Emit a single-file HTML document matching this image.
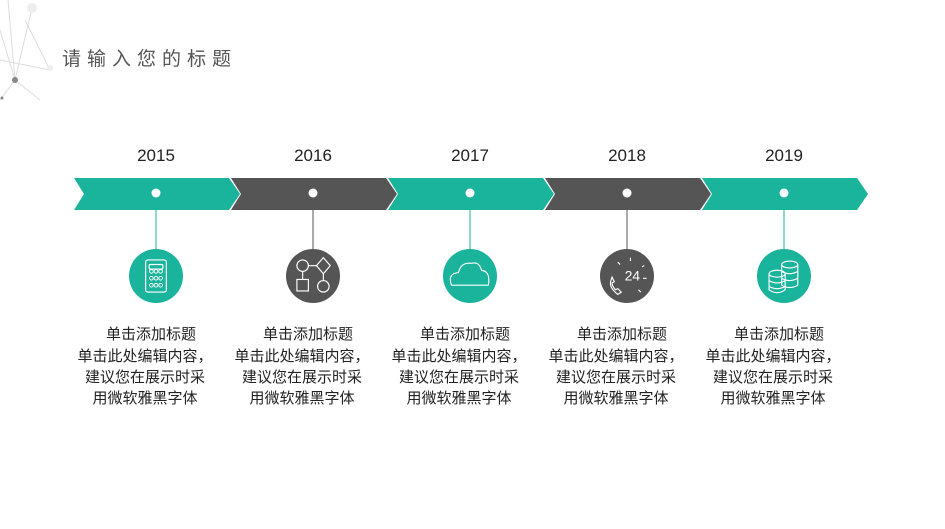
<!DOCTYPE html>
<html><head><meta charset="utf-8"><style>
body{margin:0;width:945px;height:529px;background:#fff;overflow:hidden;position:relative;font-family:"Liberation Sans","Noto Sans CJK SC",sans-serif}
.t{position:absolute;left:62px;top:44px;font-size:19px;letter-spacing:6px;color:#555}
.y{position:absolute;top:146px;width:120px;text-align:center;font-size:17px;color:#222}
.d{position:absolute;top:324px;width:160px;text-align:center;font-size:15px;line-height:21px;color:#222;white-space:nowrap}
.d b{font-weight:normal;display:block;margin-bottom:1px;padding-left:12px}
</style></head><body>
<svg width="945" height="529" style="position:absolute;left:0;top:0">
<g stroke="#ddd" stroke-width="1" fill="none">
<line x1="0" y1="30" x2="15" y2="80"/><line x1="15" y1="80" x2="0" y2="100"/><line x1="8" y1="0" x2="15" y2="80"/><line x1="32" y1="8" x2="15" y2="80"/><line x1="15" y1="80" x2="40" y2="100"/><line x1="0" y1="60" x2="50" y2="70"/><line x1="25" y1="20" x2="50" y2="70"/>
</g>
<circle cx="15" cy="80" r="3" fill="#888"/><circle cx="32" cy="8" r="5" fill="#eee"/><circle cx="2" cy="98" r="1.5" fill="#888"/><circle cx="50" cy="68" r="3" fill="#eee"/>
<g id="g"></g>
</svg>
<div class="t">请输入您的标题</div>
<script>
var cols=["#1ab39b","#555555","#1ab39b","#555555","#1ab39b"],yrs=["2015","2016","2017","2018","2019"];
var s='';
var icons=[
'<rect x="-9" y="-14" width="18" height="28" rx="2" fill="none" stroke="#fff" stroke-width="1"/><rect x="-6" y="-10" width="12" height="4" rx="1" fill="none" stroke="#fff"/>'+[-4,2,8].map(function(y){return [-4,0,4].map(function(x){return '<circle cx="'+x+'" cy="'+y+'" r="1.6" fill="none" stroke="#fff" stroke-width=".8"/>'}).join('')}).join(''),
'<g fill="none" stroke="#fff" stroke-width="1"><circle cx="-9" cy="-9" r="5"/><path d="M9 -16 L15 -9 L9 -2 L3 -9Z"/><rect x="-14" y="3" width="10" height="10"/><circle cx="9" cy="9" r="5"/><line x1="-4" y1="-9" x2="3" y2="-9"/><line x1="9" y1="-2" x2="9" y2="4"/><line x1="-9" y1="-4" x2="-9" y2="3"/></g>',
'<path d="M-16 8 Q-20 -2 -10 -3 Q-8 -12 1 -11 Q8 -13 10 -5 Q18 -4 16 8 Z" fill="none" stroke="#fff" stroke-width="1"/>',
'<text x="-2" y="4" fill="#fff" font-size="12" font-family="Liberation Sans">24</text><path d="M-14 4 q-2 6 6 12 l3 -2 l-3 -3 l-2 1 q-3 -3 -3 -6 l2 -1 l-2 -4z" fill="none" stroke="#fff" stroke-width="1"/><g stroke="#fff" stroke-width="1"><line x1="3" y1="-16" x2="3" y2="-13"/><line x1="13" y1="-8" x2="15" y2="-9"/><line x1="14" y1="2" x2="17" y2="2"/><line x1="10" y1="12" x2="12" y2="14"/><line x1="-8" y1="-12" x2="-6" y2="-10"/></g>',
'<g fill="none" stroke="#fff" stroke-width="1"><ellipse cx="5" cy="-10" rx="7" ry="3"/><path d="M-2 -10 v18 M12 -10 v18 M-2 -4 q7 4 14 0 M-2 2 q7 4 14 0 M-2 8 q7 4 14 0"/><ellipse cx="-6" cy="-2" rx="7" ry="3"/><path d="M-13 -2 v14 q7 5 14 0 v-14 M-13 4 q7 4 14 0 M-13 9 q7 4 14 0"/></g>'
];
for(var i=0;i<5;i++){var x=74+157*i,c=156+157*i;
s+='<polygon points="'+x+',178 '+(x+155)+',178 '+(x+166)+',194 '+(x+155)+',210 '+x+',210 '+(x+10)+',194" fill="'+cols[i]+'"/>';
s+='<circle cx="'+c+'" cy="193" r="4.5" fill="#fff"/><line x1="'+c+'" y1="210" x2="'+c+'" y2="250" stroke="'+cols[i]+'" stroke-width="1"/>';
s+='<circle cx="'+c+'" cy="276" r="27" fill="'+cols[i]+'"/><g transform="translate('+c+',276) scale(1.15)">'+icons[i]+'</g>';
document.write('<div class="y" style="left:'+(c-60)+'px">'+yrs[i]+'</div><div class="d" style="left:'+(c-91)+'px"><b>单击添加标题</b>单击此处编辑内容，<br>建议您在展示时采<br>用微软雅黑字体</div>');}
document.getElementById('g').innerHTML=s;
</script>
</body></html>
